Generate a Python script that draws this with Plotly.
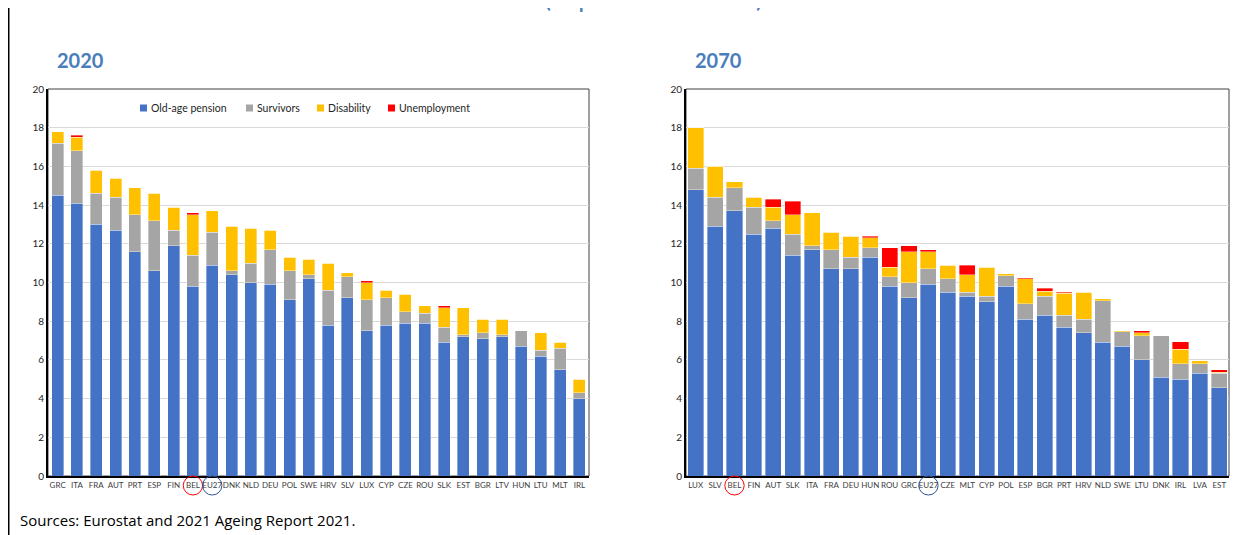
import plotly.graph_objects as go
from plotly.subplots import make_subplots

# 2020
c20 = ["GRC", "ITA", "FRA", "AUT", "PRT", "ESP", "FIN", "BEL", "EU27", "DNK", "NLD", "DEU", "POL", "SWE",
       "HRV", "SLV", "LUX", "CYP", "CZE", "ROU", "SLK", "EST", "BGR", "LTV", "HUN", "LTU", "MLT", "IRL"]
old20 = [14.5, 14.1, 13.0, 12.7, 11.6, 10.6, 11.9, 9.8, 10.9, 10.4, 10.0, 9.9, 9.1, 10.2,
         7.8, 9.2, 7.5, 7.8, 7.9, 7.9, 6.9, 7.2, 7.1, 7.2, 6.7, 6.2, 5.5, 4.0]
surv20 = [2.7, 2.7, 1.6, 1.7, 1.9, 2.6, 0.8, 1.6, 1.7, 0.2, 1.0, 1.8, 1.5, 0.2,
          1.8, 1.1, 1.6, 1.4, 0.6, 0.5, 0.8, 0.1, 0.3, 0.1, 0.8, 0.3, 1.1, 0.3]
dis20 = [0.6, 0.7, 1.2, 1.0, 1.4, 1.4, 1.2, 2.1, 1.1, 2.3, 1.8, 1.0, 0.7, 0.8,
         1.4, 0.2, 0.9, 0.4, 0.9, 0.4, 1.0, 1.4, 0.7, 0.8, 0.0, 0.9, 0.3, 0.7]
unemp20 = [0.0, 0.1, 0.0, 0.0, 0.0, 0.0, 0.0, 0.1, 0.0, 0.0, 0.0, 0.0, 0.0, 0.0,
           0.0, 0.0, 0.1, 0.0, 0.0, 0.0, 0.1, 0.0, 0.0, 0.0, 0.0, 0.0, 0.0, 0.0]

# 2070
c70 = ["LUX", "SLV", "BEL", "FIN", "AUT", "SLK", "ITA", "FRA", "DEU", "HUN", "ROU", "GRC", "EU27", "CZE",
       "MLT", "CYP", "POL", "ESP", "BGR", "PRT", "HRV", "NLD", "SWE", "LTU", "DNK", "IRL", "LVA", "EST"]
old70 = [14.8, 12.9, 13.7, 12.5, 12.8, 11.4, 11.7, 10.7, 10.7, 11.3, 9.8, 9.2, 9.9, 9.5,
         9.3, 9.0, 9.8, 8.1, 8.3, 7.7, 7.4, 6.9, 6.7, 6.0, 5.1, 5.0, 5.3, 4.55]
surv70 = [1.1, 1.5, 1.2, 1.4, 0.4, 1.1, 0.2, 1.0, 0.6, 0.5, 0.5, 0.8, 0.8, 0.7,
          0.2, 0.3, 0.55, 0.8, 1.0, 0.6, 0.7, 2.15, 0.75, 1.25, 2.15, 0.8, 0.5, 0.75]
dis70 = [2.1, 1.6, 0.3, 0.5, 0.7, 1.0, 1.7, 0.9, 1.1, 0.5, 0.5, 1.6, 0.9, 0.7,
         0.9, 1.5, 0.1, 1.3, 0.25, 1.15, 1.4, 0.1, 0.05, 0.15, 0.0, 0.75, 0.15, 0.05]
unemp70 = [0.0, 0.0, 0.0, 0.0, 0.4, 0.7, 0.0, 0.0, 0.0, 0.1, 1.0, 0.3, 0.1, 0.0,
           0.5, 0.0, 0.0, 0.05, 0.15, 0.05, 0.0, 0.0, 0.0, 0.1, 0.0, 0.4, 0.0, 0.13]

names = ["Old-age pension", "Survivors", "Disability", "Unemployment"]
colors = ["#4472C4", "#A5A5A5", "#FFC000", "#FF0000"]

W, H = 1243, 535
OFF = 8  # page body margin
FONT = "Lato"


def px(x):
    return (x - OFF) / W


def py(y):
    return 1 - (y - OFF) / H


fig = make_subplots(rows=1, cols=2)

for vals, name, col in zip([old20, surv20, dis20, unemp20], names, colors):
    fig.add_trace(go.Bar(x=c20, y=vals, name=name, marker_color=col, width=0.62,
                         marker_line=dict(color="rgba(255,255,255,0.6)", width=0.6)), row=1, col=1)
for vals, name, col in zip([old70, surv70, dis70, unemp70], names, colors):
    fig.add_trace(go.Bar(x=c70, y=vals, name=name, marker_color=col, width=0.83,
                         marker_line=dict(color="rgba(255,255,255,0.6)", width=0.6)), row=1, col=2)

ydom = [py(476), py(89)]
fig.update_xaxes(domain=[px(48), px(589)], row=1, col=1)
fig.update_xaxes(domain=[px(686), px(1229)], row=1, col=2)
fig.update_xaxes(showline=True, linecolor="black", linewidth=2, ticks="", showgrid=False,
                 tickfont=dict(family=FONT, size=8, color="#404040"), tickangle=0, automargin=False)
fig.update_yaxes(domain=ydom, range=[0, 20], dtick=2, showline=True, linecolor="black", linewidth=2,
                 gridcolor="#D9D9D9", gridwidth=1, ticks="", zeroline=False,
                 tickfont=dict(family=FONT, size=10, color="#262626"), automargin=False)

shapes = []
for xr, yr in [("x domain", "y domain"), ("x2 domain", "y2 domain")]:
    shapes.append(dict(type="rect", xref=xr, yref=yr, x0=0, x1=1, y0=0, y1=1,
                       line=dict(color="#404040", width=1), layer="below"))

# circled labels
for xr, cats in [("x", c20), ("x2", c70)]:
    for lab, lc in [("BEL", "#FF0000"), ("EU27", "#2F5597")]:
        k = cats.index(lab)
        shapes.append(dict(type="circle", xref=xr, yref="paper", x0=k - 0.5, x1=k + 0.5,
                           y0=py(495), y1=py(476), line=dict(color=lc, width=1)))

# left frame line
shapes.append(dict(type="line", xref="paper", yref="paper", x0=px(8.5), x1=px(8.5), y0=0, y1=1.1,
                   line=dict(color="black", width=2)))

annotations = [
    dict(text="<b>2020</b>", x=px(55), y=py(60), xref="paper", yref="paper", xanchor="left",
         yanchor="middle", showarrow=False, font=dict(family=FONT, size=20, color="#4A7EBB")),
    dict(text="<b>2070</b>", x=px(693), y=py(60), xref="paper", yref="paper", xanchor="left",
         yanchor="middle", showarrow=False, font=dict(family=FONT, size=20, color="#4A7EBB")),
    dict(text="Sources: Eurostat and 2021 Ageing Report 2021.", x=px(18), y=py(520),
         xref="paper", yref="paper", xanchor="left", yanchor="middle", showarrow=False,
         font=dict(family="Open Sans", size=15, color="black")),
    # chart title, cut off by the top of the page as in the original
    dict(text="(in percent of GDP)", x=px(653), y=py(-3), xref="paper", yref="paper",
         xanchor="center", yanchor="middle", showarrow=False,
         font=dict(family=FONT, size=26, color="#4A7EBB")),
]

# hand-made legend inside the 2020 panel
leg_x = [140, 246, 317, 388]
for lx, name, col in zip(leg_x, names, colors):
    shapes.append(dict(type="rect", xref="paper", yref="paper", x0=px(lx), x1=px(lx + 7),
                       y0=py(111.5), y1=py(104.5), fillcolor=col, line=dict(width=0)))
    annotations.append(dict(text=name, x=px(lx + 9), y=py(108), xref="paper", yref="paper",
                            xanchor="left", yanchor="middle", showarrow=False,
                            font=dict(family=FONT, size=10.5, color="#262626")))

fig.update_layout(
    width=W, height=H,
    margin=dict(l=0, r=0, t=0, b=0),
    paper_bgcolor="white", plot_bgcolor="white",
    barmode="stack",
    showlegend=False,
    shapes=shapes,
    annotations=annotations,
)

fig.write_html("out.html")
